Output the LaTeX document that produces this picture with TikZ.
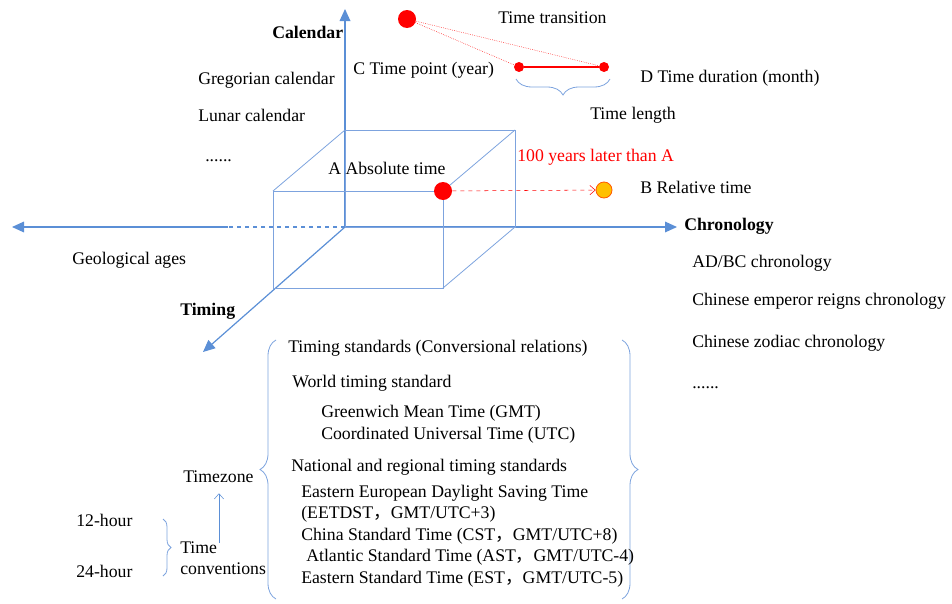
\documentclass[tikz,border=0pt]{standalone}
\usepackage{fontspec}
\setmainfont{Liberation Serif}
\newfontfamily\cjk{Noto Sans CJK SC}
\usepackage{tikz}
\usetikzlibrary{positioning,calc,arrows,arrows.meta,decorations.pathreplacing}

\definecolor{axisblue}{RGB}{91,143,214}
\definecolor{cubeblue}{RGB}{125,163,222}
\definecolor{dotred}{RGB}{255,0,0}
\definecolor{dotorange}{RGB}{255,192,0}
\newcommand{\fwc}{{\cjk ，}}

\tikzset{
	txt/.style={anchor=west,inner sep=0pt,text height=8.5pt,text depth=2pt},
	axis/.style={draw=axisblue,line width=0.9pt,-{Triangle[length=9pt,width=8pt]}},
	cube/.style={draw=cubeblue,line width=0.6pt},
	bigdot/.style={circle,fill=dotred,minimum size=13.5pt,inner sep=0pt},
	smalldot/.style={circle,fill=dotred,minimum size=7.5pt,inner sep=0pt},
	reldot/.style={circle,fill=dotorange,draw=orange!70!red,line width=0.6pt,minimum size=12pt,inner sep=0pt},
	bracebox/.style={draw=cubeblue,line width=0.6pt,decorate,decoration={brace,amplitude=#1}},
	barb/.style={-{Straight Barb[length=4pt,width=7pt]}},
}

\begin{document}
\begin{tikzpicture}[x=0.75pt,y=-0.75pt,>=stealth',font=\fontsize{13.3}{16}\selectfont]
	\useasboundingbox (0,0) rectangle (952,603);

	% axes
	\coordinate (o) at (345,227);
	\coordinate (hid) at (228,227);
	\draw[axis] (o) -- (345,9) coordinate (calTip);
	\draw[axis] (o) -- (677,227) coordinate (chrTip);
	\draw[axis] (hid) -- (12,227) coordinate (geoTip);
	\draw[draw=axisblue,line width=0.9pt,dashed] (o) -- (hid);
	\draw[axis] (o) -- (203,352) coordinate (timTip);

	% cube
	\draw[cube] (273,191) rectangle (443,288);
	\draw[cube] (345,130) rectangle (515,227);
	\draw[cube] (273,191) -- (345,130) (443,191) -- (515,130) (443,288) -- (515,227);

	% absolute / relative time
	\node[bigdot] (A) at (443,191) {};
	\node[reldot] (B) at (604,190) {};
	\path[barb,red,dashed] (A) edge (B);
	\node[txt] (absA) at (328,170) {A Absolute time};
	\node[txt] (relB) at (640,189) {B Relative time};
	\node[txt,text=red] (later) at (517,157) {100 years later than A};

	% time transition
	\node[bigdot] (T) at (407,19) {};
	\node[smalldot] (C) at (519,67) {};
	\node[smalldot] (D) at (604,67) {};
	\draw[red,line width=0.8pt] (C) -- (D);
	\draw[red,densely dotted,thin] (T) -- (C) (T) -- (D);
	\draw[bracebox=12pt] (610,79) -- (516,79);
	\node[txt] (trans) at (498,19) {Time transition};
	\node[txt] (Cpt) at (353,70) {C Time point (year)};
	\node[txt] (Ddur) at (640,78) {D Time duration (month)};
	\node[txt] (tlen) at (590,115) {Time length};

	% calendar
	\node[txt,font=\fontsize{13.3}{16}\selectfont\bfseries] (cal) at (272,34) {Calendar};
	\node[txt] (greg) at (198,80) {Gregorian calendar};
	\node[txt] (lunar) at (198,117) {Lunar calendar};
	\node[txt] (calDots) at (205,157) {......};

	% chronology
	\node[txt,font=\fontsize{13.3}{16}\selectfont\bfseries] (chr) at (684,226) {Chronology};
	\node[txt] (adbc) at (692,263) {AD/BC chronology};
	\node[txt] (reign) at (692,301) {Chinese emperor reigns chronology};
	\node[txt] (zodiac) at (692,343) {Chinese zodiac chronology};
	\node[txt] (chrDots) at (692,384) {......};

	\node[txt] (geo) at (72,260) {Geological ages};
	\node[txt,font=\fontsize{13.3}{16}\selectfont\bfseries] (tim) at (180,311) {Timing};

	% timing standards
	\draw[bracebox=12pt] (276,599) -- (276,340);
	\draw[bracebox=12pt] (622,340) -- (622,599);
	\node[txt] (std) at (288,348) {Timing standards (Conversional relations)};
	\node[txt] (world) at (292,383) {World timing standard};
	\node[txt] (gmt) at (321,413) {Greenwich Mean Time (GMT)};
	\node[txt] (utc) at (321,435) {Coordinated Universal Time (UTC)};
	\node[txt] (natl) at (291,467) {National and regional timing standards};
	\node[txt] (eet) at (301,493) {Eastern European Daylight Saving Time};
	\node[txt] (eet2) at (301,514) {(EETDST\fwc GMT/UTC+3)};
	\node[txt] (cst) at (301,536) {China Standard Time (CST\fwc GMT/UTC+8)};
	\node[txt] (ast) at (306,557) {Atlantic Standard Time (AST\fwc GMT/UTC-4)};
	\node[txt] (est) at (301,579) {Eastern Standard Time (EST\fwc GMT/UTC-5)};

	% time conventions
	\node[txt] (tz) at (183,478) {Timezone};
	\node[txt] (h12) at (76,522) {12-hour};
	\node[txt] (h24) at (76,573) {24-hour};
	\node[anchor=west,inner sep=0pt,align=left] (tc) at (180,558) {Time\\[0pt]conventions};
	\draw[bracebox=6pt] (163,519) -- (163,576);
	\coordinate (tcUp) at (219,543);
	\draw[barb,draw=axisblue,thin,shorten >=6pt] (tcUp) -- (tcUp |- tz.south);
\end{tikzpicture}
\end{document}
